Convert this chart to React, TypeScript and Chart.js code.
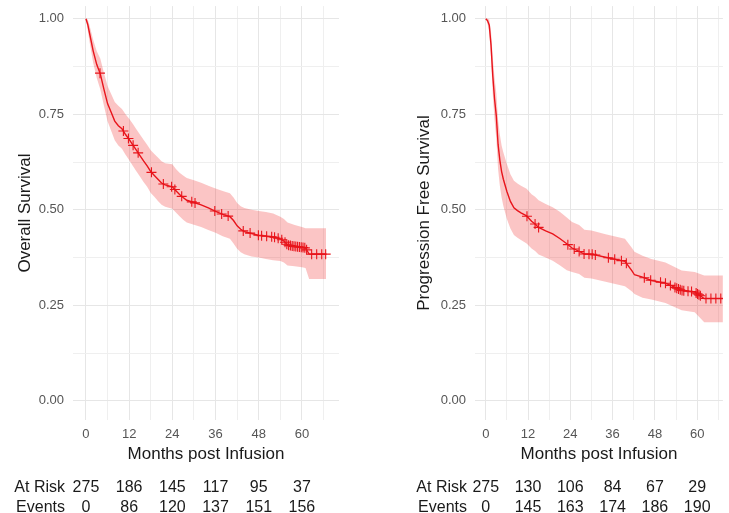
import React, { useEffect, useRef } from "react";
import { Chart, registerables } from "chart.js";

Chart.register(...registerables);

const FONT = "'Liberation Sans', Arial, sans-serif";

// Axis ticks
const xMajorTicks = [0, 12, 24, 36, 48, 60];
const xMinorTicks = [6, 18, 30, 42, 54, 66];
const yMajorTicks = [0, 0.25, 0.5, 0.75, 1];
const yMinorTicks = [0.125, 0.375, 0.625, 0.875];
const riskTimes = [0, 12, 24, 36, 48, 60];

// Overall survival (left panel)
const osTime = [0, 0.5, 1, 2, 3, 4, 5, 6, 7, 8, 9, 10, 11, 12, 13, 14, 15, 16, 17, 18, 19, 20, 21, 22, 24, 25, 26, 27, 28, 30, 32, 34, 36, 38, 40, 41, 42, 43, 44, 46, 48, 50, 52, 54, 55, 56, 58, 60, 61, 62, 66.7];
const osSurv = [1, 0.985, 0.962, 0.916, 0.88, 0.855, 0.815, 0.778, 0.755, 0.732, 0.72, 0.712, 0.697, 0.684, 0.67, 0.656, 0.642, 0.628, 0.615, 0.6, 0.59, 0.58, 0.57, 0.565, 0.56, 0.55, 0.54, 0.532, 0.525, 0.519, 0.513, 0.505, 0.496, 0.488, 0.482, 0.472, 0.458, 0.449, 0.443, 0.438, 0.433, 0.431, 0.429, 0.424, 0.418, 0.408, 0.404, 0.402, 0.4, 0.384, 0.384];
const osUpper = [1, 0.998, 0.982, 0.945, 0.915, 0.895, 0.858, 0.824, 0.803, 0.782, 0.772, 0.764, 0.75, 0.738, 0.725, 0.711, 0.697, 0.683, 0.67, 0.656, 0.646, 0.637, 0.627, 0.622, 0.619, 0.607, 0.597, 0.59, 0.583, 0.577, 0.571, 0.563, 0.556, 0.549, 0.543, 0.532, 0.518, 0.509, 0.505, 0.5, 0.497, 0.494, 0.49, 0.482, 0.476, 0.467, 0.46, 0.455, 0.452, 0.452, 0.452];
const osLower = [1, 0.97, 0.94, 0.885, 0.845, 0.815, 0.772, 0.732, 0.707, 0.682, 0.668, 0.66, 0.644, 0.63, 0.615, 0.601, 0.587, 0.573, 0.56, 0.544, 0.534, 0.523, 0.513, 0.508, 0.503, 0.493, 0.483, 0.474, 0.467, 0.461, 0.455, 0.447, 0.44, 0.431, 0.424, 0.412, 0.398, 0.389, 0.384, 0.378, 0.375, 0.371, 0.368, 0.366, 0.362, 0.354, 0.352, 0.35, 0.348, 0.319, 0.319];
const osCensor = [3.9, 10.4, 11.8, 13.1, 14.5, 18.2, 21.5, 23.8, 24.7, 26.6, 29.4, 30.3, 35.8, 37.7, 39.5, 43.7, 45.6, 47.9, 48.8, 50.2, 51.6, 52.4, 53.4, 54.4, 55.3, 55.8, 56.3, 56.8, 57.3, 57.8, 58.3, 58.8, 59.3, 59.8, 60.3, 60.8, 61.3, 62.7, 64.1, 65.5, 66.6];
const osAtRisk = [275, 186, 145, 117, 95, 37];
const osEvents = [0, 86, 120, 137, 151, 156];

// Progression free survival (right panel)
const pfsTime = [0, 0.5, 1, 1.5, 2, 2.5, 3, 3.5, 4, 4.5, 5, 6, 7, 8, 9, 10, 11.6, 13, 14, 15, 17, 19, 21, 23, 24.5, 26.5, 28, 30, 34, 39.5, 41.5, 42.2, 44.5, 47, 51, 55.6, 59.3, 62, 67.3];
const pfsSurv = [1, 0.995, 0.983, 0.931, 0.85, 0.79, 0.745, 0.671, 0.63, 0.6, 0.58, 0.548, 0.522, 0.505, 0.498, 0.492, 0.484, 0.47, 0.463, 0.454, 0.445, 0.437, 0.425, 0.411, 0.4, 0.391, 0.384, 0.384, 0.376, 0.365, 0.34, 0.33, 0.324, 0.315, 0.308, 0.289, 0.285, 0.268, 0.268];
const pfsUpper = [1, 1, 0.998, 0.965, 0.898, 0.845, 0.805, 0.735, 0.697, 0.668, 0.65, 0.62, 0.593, 0.576, 0.569, 0.563, 0.555, 0.541, 0.534, 0.525, 0.515, 0.507, 0.495, 0.48, 0.468, 0.46, 0.448, 0.446, 0.436, 0.424, 0.4, 0.39, 0.38, 0.371, 0.362, 0.341, 0.337, 0.328, 0.328];
const pfsLower = [1, 0.987, 0.965, 0.897, 0.802, 0.735, 0.685, 0.607, 0.563, 0.532, 0.51, 0.476, 0.451, 0.434, 0.427, 0.421, 0.412, 0.399, 0.392, 0.383, 0.375, 0.367, 0.355, 0.342, 0.337, 0.332, 0.322, 0.32, 0.312, 0.3, 0.286, 0.28, 0.27, 0.265, 0.256, 0.237, 0.232, 0.206, 0.206];
const pfsCensor = [11.7, 14, 15, 23.3, 25.1, 26.5, 27.9, 29.3, 30.2, 31.1, 34.8, 36.6, 38.5, 39.9, 45, 46.8, 49.6, 51, 52.4, 53.7, 54.2, 54.7, 55.2, 55.7, 56.2, 57.4, 58.4, 59.7, 60.1, 60.5, 60.9, 62.5, 63.9, 65.3, 66.7];
const pfsAtRisk = [275, 130, 106, 84, 67, 29];
const pfsEvents = [0, 145, 163, 174, 186, 190];

const LINE_RED = "#e8141b";
const BAND = "rgba(240, 40, 40, 0.27)";
const GRID_MAJOR = "#e6e6e6";
const GRID_MINOR = "#efefef";

type PanelProps = {
  width: number;
  left: number;
  yAxisWidth: number;
  rightPad: number;
  xMin: number;
  xMax: number;
  yTitle: string;
  yTitlePad: number;
  time: number[];
  surv: number[];
  upper: number[];
  lower: number[];
  censor: number[];
  atRisk: number[];
  events: number[];
};

function KMPanel(p: PanelProps) {
  const ref = useRef<HTMLCanvasElement>(null);
  useEffect(() => {
    if (!ref.current) return;
    const pts = (ys: number[]) => p.time.map((t, i) => ({ x: t, y: ys[i] }));
    // value of the curve at time t (linear between read points, as drawn)
    const curveAt = (t: number) => {
      const T = p.time, S = p.surv;
      if (t <= T[0]) return S[0];
      for (let i = 1; i < T.length; i++) {
        if (t <= T[i]) {
          const f = (t - T[i - 1]) / (T[i] - T[i - 1]);
          return S[i - 1] + f * (S[i] - S[i - 1]);
        }
      }
      return S[S.length - 1];
    };
    const riskPlugin = {
      id: "riskTable",
      afterDraw(chart: any) {
        const { ctx, chartArea, scales } = chart;
        const xs = scales.x;
        ctx.save();
        ctx.font = `16px ${FONT}`;
        ctx.fillStyle = "#1a1a1a";
        ctx.textBaseline = "alphabetic";
        const rows: [string, number[], number][] = [
          ["At Risk", p.atRisk, 72],
          ["Events", p.events, 92],
        ];
        rows.forEach(([label, vals, dy]) => {
          const y = chartArea.bottom + dy;
          ctx.textAlign = "right";
          ctx.fillText(label, chartArea.left - 8, y);
          ctx.textAlign = "center";
          vals.forEach((v, i) => ctx.fillText(String(v), xs.getPixelForValue(riskTimes[i]), y));
        });
        ctx.restore();
      },
    };
    const chart = new Chart(ref.current, {
      type: "line",
      data: {
        datasets: [
          {
            data: pts(p.upper),
            borderWidth: 0,
            pointRadius: 0,
            fill: "+1",
            backgroundColor: BAND,
            borderColor: "rgba(0,0,0,0)",
            order: 3,
          },
          {
            data: pts(p.lower),
            borderWidth: 0,
            pointRadius: 0,
            fill: false,
            borderColor: "rgba(0,0,0,0)",
            order: 3,
          },
          {
            data: pts(p.surv),
            borderWidth: 1.4,
            borderColor: LINE_RED,
            pointRadius: 0,
            fill: false,
            order: 1,
          },
          {
            data: p.censor.map((t) => ({ x: t, y: curveAt(t) })),
            showLine: false,
            pointStyle: "cross",
            pointRadius: 5,
            pointBorderWidth: 1.1,
            pointBorderColor: LINE_RED,
            borderColor: LINE_RED,
            order: 0,
          } as any,
        ],
      },
      options: {
        animation: false,
        responsive: false,
        maintainAspectRatio: false,
        events: [],
        layout: { padding: { left: 0, right: p.rightPad, top: 0, bottom: 0 } },
        plugins: { legend: { display: false }, tooltip: { enabled: false } },
        scales: {
          x: {
            type: "linear",
            min: p.xMin,
            max: p.xMax,
            afterBuildTicks: (s: any) => {
              s.ticks = [...xMajorTicks, ...xMinorTicks].sort((a, b) => a - b).map((v) => ({ value: v }));
            },
            afterFit: (s: any) => {
              s.height = 93;
              s.paddingLeft = 0;
              s.paddingRight = 0;
            },
            ticks: {
              autoSkip: false,
              maxRotation: 0,
              padding: 7,
              color: "#555555",
              font: { family: FONT, size: 13 },
              callback: (v: any) => (xMajorTicks.includes(Number(v)) ? String(v) : ""),
            },
            grid: {
              drawTicks: false,
              color: (c: any) => (xMajorTicks.includes(c.tick?.value) ? GRID_MAJOR : GRID_MINOR),
              lineWidth: 1,
            },
            border: { display: false },
            title: {
              display: true,
              text: "Months post Infusion",
              color: "#1a1a1a",
              font: { family: FONT, size: 17 },
              padding: { top: 0, bottom: 48 },
            },
          },
          y: {
            type: "linear",
            min: -0.05,
            max: 1.033,
            afterBuildTicks: (s: any) => {
              s.ticks = [...yMajorTicks, ...yMinorTicks].sort((a, b) => a - b).map((v) => ({ value: v }));
            },
            afterFit: (s: any) => {
              s.width = p.yAxisWidth;
              s.paddingTop = 0;
              s.paddingBottom = 0;
            },
            ticks: {
              autoSkip: false,
              padding: 9,
              color: "#555555",
              font: { family: FONT, size: 13 },
              callback: (v: any) => (yMajorTicks.includes(Number(v)) ? Number(v).toFixed(2) : ""),
            },
            grid: {
              drawTicks: false,
              color: (c: any) => (yMajorTicks.includes(c.tick?.value) ? GRID_MAJOR : GRID_MINOR),
              lineWidth: 1,
            },
            border: { display: false },
            title: {
              display: true,
              text: p.yTitle,
              color: "#1a1a1a",
              font: { family: FONT, size: 17 },
              padding: { top: p.yTitlePad, bottom: 0 },
            },
          },
        },
      } as any,
      plugins: [riskPlugin],
    });
    return () => chart.destroy();
  }, []);
  return (
    <canvas
      ref={ref}
      width={p.width}
      height={513}
      style={{ position: "absolute", left: p.left, top: 0, width: p.width, height: 513 }}
    />
  );
}

export default function App() {
  return (
    <div style={{ position: "absolute", left: 0, top: 0, width: 729, height: 513, overflow: "hidden", background: "#ffffff" }}>
      <KMPanel
        width={365}
        left={0}
        yAxisWidth={73}
        rightPad={26}
        xMin={-3.6}
        xMax={70.3}
        yTitle="Overall Survival"
        yTitlePad={15}
        time={osTime}
        surv={osSurv}
        upper={osUpper}
        lower={osLower}
        censor={osCensor}
        atRisk={osAtRisk}
        events={osEvents}
      />
      <KMPanel
        width={364}
        left={365}
        yAxisWidth={110}
        rightPad={0}
        xMin={-3.05}
        xMax={67.3}
        yTitle="Progression Free Survival"
        yTitlePad={49}
        time={pfsTime}
        surv={pfsSurv}
        upper={pfsUpper}
        lower={pfsLower}
        censor={pfsCensor}
        atRisk={pfsAtRisk}
        events={pfsEvents}
      />
    </div>
  );
}
